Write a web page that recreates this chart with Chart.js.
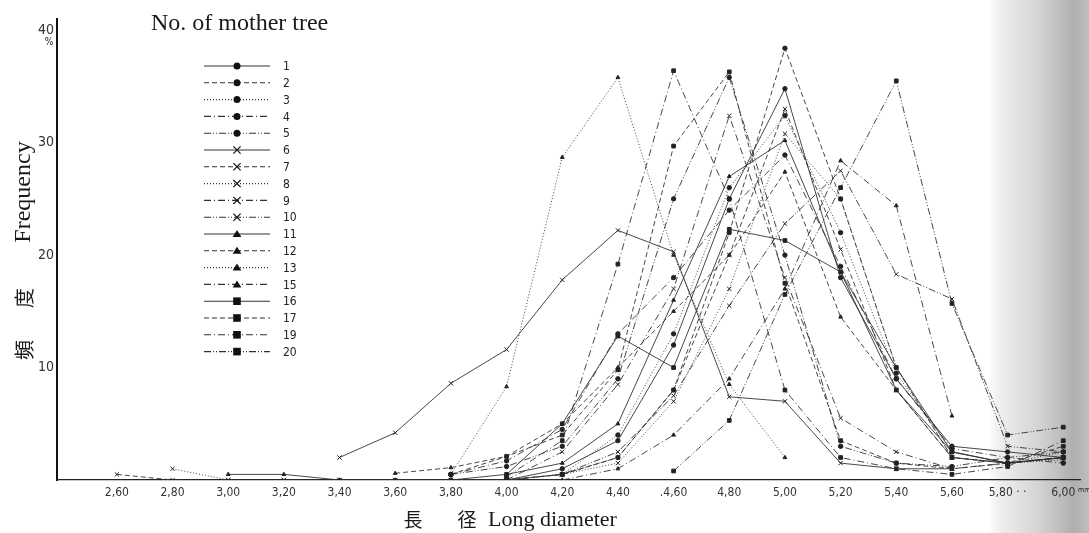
<!DOCTYPE html>
<html>
<head>
<meta charset="utf-8">
<script src="https://cdn.jsdelivr.net/npm/chart.js@4/dist/chart.umd.min.js"></script>
<style>
  html, body { margin: 0; padding: 0; background: #fff; }
  #wrap { width: 1089px; height: 533px; position: relative; }
</style>
</head>
<body>
<div id="wrap"><canvas id="c" width="1089" height="533"></canvas></div>
<script>
// ---- data ----
const xValues = [2.6, 2.8, 3.0, 3.2, 3.4, 3.6, 3.8, 4.0, 4.2, 4.4, 4.6, 4.8, 5.0, 5.2, 5.4, 5.6, 5.8, 6.0];
const xTickLabels = ['2,60','2,80','3,00','3,20','3,40','3,60','3,80','4,00','4,20','4,40','.4,60','4,80','5,00','5,20','5,40','5,60','5,80 · ·','6,00'];
const yTickValues = [10, 20, 30, 40];
const treeNumbers = ['1','2','3','4','5','6','7','8','9','10','11','12','13','15','16','17','19','20'];

const s1  = [null,null,null,null,null,null,0,0,1,3.5,12,25,34.8,18,9,3,2.5,2];
const s2  = [null,null,null,null,null,null,null,0,0.5,2,8,22,38.4,25,10,2,1.5,2];
const s3  = [null,null,null,null,null,null,null,0,0.5,4,13,26,32.4,22,9.5,2.5,1.5,2.5];
const s4  = [null,null,null,null,null,null,0.5,1.7,4.5,13,18,24,28.9,19,9,2.8,2,1.5];
const s5  = [null,null,null,null,null,null,0.5,1.2,3,9,25,35.8,20,3,1.5,1.2,2,2.5];
const s6  = [null,null,null,null,2.0,4.2,8.6,11.6,17.8,22.2,20.3,7.4,7.0,1.5,1,1,null,null];
const s7  = [0.5,0,0,0,0,0,0,0,0.5,2,8,20,33,20.5,8,2,1.5,2];
const s8  = [null,1.0,0,0,0,0,0,0,0.5,1.5,7,17,30.8,25,10,2,1.5,1.8];
const s9  = [null,null,null,null,null,null,null,0,2.5,8.5,17,32.4,18,5.5,2.5,1,1.5,2];
const s10 = [null,null,null,null,null,null,null,0,0.5,2.5,7.5,15.5,22.8,27.5,18.3,16.1,3,2.5];
const s11 = [null,null,0.5,0.5,0,0,0,0.5,1.5,5,16,27,30.2,18.5,10,2.5,1.5,2];
const s12 = [null,null,null,null,null,0.6,1.1,2.1,5,10,15,20,27.4,14.5,8,2,1.5,2];
const s13 = [null,null,null,null,null,null,0.5,8.3,28.7,35.8,20,8.5,2.0,null,null,null,null,null];
const s15 = [null,null,null,null,null,null,null,0,0,1,4,9,17,28.4,24.4,5.7,null,null];
const s16 = [null,null,null,null,null,null,null,0.5,5,12.8,10,22.3,21.3,18.5,8,2.5,1.5,2];
const s17 = [null,null,null,null,null,null,0.5,2.1,4,9.8,29.7,36.3,17.5,3.5,1.5,1,1.5,3];
const s19 = [null,null,null,null,null,null,null,0.3,3.5,19.2,36.4,25,8,2,1,0.5,1.2,3.5];
const s20 = [null,null,null,null,null,null,null,null,null,null,0.8,5.3,16.5,26,35.5,15.7,4.0,4.7];

const seriesValues = [s1,s2,s3,s4,s5,s6,s7,s8,s9,s10,s11,s12,s13,s15,s16,s17,s19,s20];

// ---- styles ----
const DASH = {
  solid: [],
  dashed: [5, 3],
  dotted: [1, 2],
  dashdot: [7, 3, 1, 3],
  dashdotdot: [7, 2, 1, 2, 1, 2]
};
const lineKinds = ['solid','dashed','dotted','dashdot','dashdotdot',
                   'solid','dashed','dotted','dashdot','dashdotdot',
                   'solid','dashed','dotted','dashdot',
                   'solid','dashed','dashdot','dashdotdot'];
const markerKinds = ['circle','circle','circle','circle','circle',
                     'crossRot','crossRot','crossRot','crossRot','crossRot',
                     'triangle','triangle','triangle','triangle',
                     'rect','rect','rect','rect'];
const INK = '#333';
const SERIF = '"Liberation Serif", "DejaVu Serif", serif';
const NARROW = '"DejaVu Sans Condensed", "DejaVu Sans", sans-serif';

const datasets = seriesValues.map((vals, i) => ({
  label: treeNumbers[i],
  data: xValues.map((x, j) => ({ x: x, y: vals[j] })),
  borderColor: INK,
  backgroundColor: INK,
  borderWidth: 0.9,
  borderDash: DASH[lineKinds[i]],
  pointStyle: markerKinds[i],
  pointRadius: markerKinds[i] === 'crossRot' ? 3 : (markerKinds[i] === 'rect' ? 2.6 : 2.2),
  pointBorderWidth: 1,
  pointBorderColor: '#222',
  pointBackgroundColor: '#222',
  tension: 0,
  spanGaps: false,
  fill: false
}));

function drawMarker(ctx, kind, x, y) {
  ctx.save();
  ctx.setLineDash([]);
  ctx.fillStyle = '#111';
  ctx.strokeStyle = '#111';
  ctx.lineWidth = 1.2;
  if (kind === 'circle') {
    ctx.beginPath(); ctx.arc(x, y, 3.5, 0, Math.PI * 2); ctx.fill();
  } else if (kind === 'crossRot') {
    const r = 3.6;
    ctx.beginPath();
    ctx.moveTo(x - r, y - r); ctx.lineTo(x + r, y + r);
    ctx.moveTo(x + r, y - r); ctx.lineTo(x - r, y + r);
    ctx.stroke();
  } else if (kind === 'triangle') {
    ctx.beginPath();
    ctx.moveTo(x, y - 4); ctx.lineTo(x + 4.4, y + 3); ctx.lineTo(x - 4.4, y + 3);
    ctx.closePath(); ctx.fill();
  } else {
    ctx.fillRect(x - 3.8, y - 3.8, 7.6, 7.6);
  }
  ctx.restore();
}

const decor = {
  id: 'decor',
  beforeDraw(chart) {
    const ctx = chart.ctx;
    ctx.save();
    ctx.fillStyle = '#fff';
    ctx.fillRect(0, 0, chart.width, chart.height);
    const g = ctx.createLinearGradient(988, 0, 1089, 0);
    g.addColorStop(0, 'rgba(255,255,255,1)');
    g.addColorStop(0.1, 'rgba(240,240,240,1)');
    g.addColorStop(0.5, 'rgba(212,212,212,1)');
    g.addColorStop(0.85, 'rgba(175,175,175,1)');
    g.addColorStop(1, 'rgba(190,190,190,1)');
    ctx.fillStyle = g;
    ctx.fillRect(988, 0, 101, chart.height);
    ctx.restore();
  },
  afterDraw(chart) {
    const ctx = chart.ctx;
    ctx.save();
    ctx.fillStyle = '#1a1a1a';
    ctx.font = '24px ' + SERIF;
    ctx.textBaseline = 'alphabetic';
    ctx.textAlign = 'left';
    ctx.fillText('No. of mother tree', 151, 30);

    // y axis title (rotated, reading bottom to top)
    ctx.save();
    ctx.translate(24, 250);
    ctx.rotate(-Math.PI / 2);
    ctx.textAlign = 'center';
    ctx.textBaseline = 'middle';
    ctx.font = '20px "Noto Sans CJK JP", serif';
    ctx.fillText('頻', -100, 0);
    ctx.fillText('度', -48, 0);
    ctx.font = '24px ' + SERIF;
    ctx.fillText('Frequency', 58, 0);
    ctx.restore();

    // x axis title
    ctx.textBaseline = 'middle';
    ctx.textAlign = 'center';
    ctx.font = '19px "Noto Sans CJK JP", serif';
    ctx.fillText('長', 413, 520);
    ctx.fillText('径', 467, 520);
    ctx.textAlign = 'left';
    ctx.font = '22px ' + SERIF;
    ctx.fillText('Long diameter', 488, 520);

    ctx.font = '10px ' + NARROW;
    ctx.textAlign = 'center';
    ctx.fillText('%', 49, 42);
    ctx.textAlign = 'left';
    ctx.font = '7px ' + NARROW;
    ctx.fillText('mm', 1078, 490);

    // legend
    chart.data.datasets.forEach((ds, i) => {
      const y = 66 + i * 16.8;
      ctx.save();
      ctx.strokeStyle = '#333';
      ctx.lineWidth = 1.1;
      ctx.setLineDash(ds.borderDash);
      ctx.beginPath();
      ctx.moveTo(204, y); ctx.lineTo(270, y);
      ctx.stroke();
      ctx.restore();
      drawMarker(ctx, ds.pointStyle, 237, y);
      ctx.fillStyle = '#222';
      ctx.font = '12px ' + NARROW;
      ctx.textAlign = 'left';
      ctx.textBaseline = 'middle';
      ctx.fillText(ds.label, 283, y + 1);
    });
    ctx.restore();
  }
};

new Chart(document.getElementById('c'), {
  type: 'line',
  data: { datasets: datasets },
  options: {
    responsive: false,
    animation: false,
    layout: { padding: { left: 27, right: 9, top: 19, bottom: 23 } },
    plugins: { legend: { display: false }, title: { display: false }, tooltip: { enabled: false } },
    scales: {
      x: {
        type: 'linear',
        min: 2.385,
        max: 6.06,
        grid: { display: false, drawTicks: false },
        border: { display: true, color: '#222', width: 1.3 },
        afterBuildTicks: (scale) => { scale.ticks = xValues.map(v => ({ value: v })); },
        afterFit: (scale) => { scale.height = 30; },
        ticks: {
          autoSkip: false,
          maxRotation: 0,
          padding: 6,
          color: '#333',
          font: { size: 12, family: NARROW },
          callback: (v, i) => xTickLabels[i]
        }
      },
      y: {
        type: 'linear',
        min: 0,
        max: 41,
        grid: { display: false, drawTicks: false },
        border: { display: true, color: '#111', width: 2 },
        afterBuildTicks: (scale) => { scale.ticks = yTickValues.map(v => ({ value: v })); },
        afterFit: (scale) => { scale.width = 30; },
        ticks: {
          padding: 3,
          color: '#333',
          font: { size: 14, family: NARROW },
          callback: (v) => String(v)
        }
      }
    }
  },
  plugins: [decor]
});
</script>
</body>
</html>
